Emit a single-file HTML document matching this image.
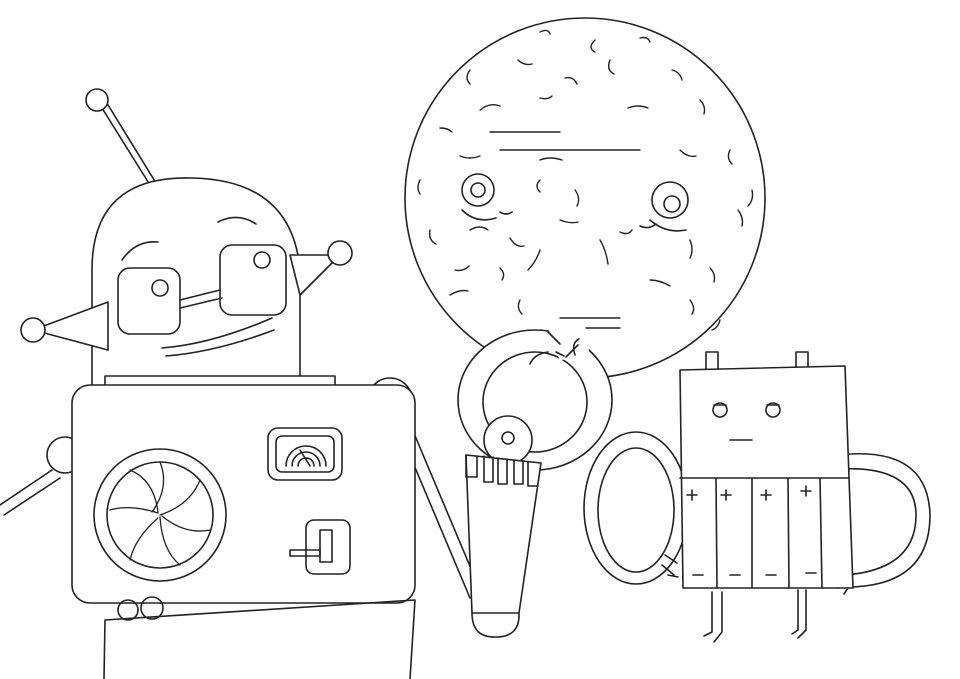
<!DOCTYPE html>
<html><head><style>html,body{margin:0;padding:0;background:#fff}svg{display:block}</style></head>
<body>
<svg width="960" height="679" viewBox="0 0 960 679" xmlns="http://www.w3.org/2000/svg" fill="none" stroke="#222" stroke-width="1.6" stroke-linejoin="round" stroke-linecap="round">
<!-- Moon -->
<circle cx="585" cy="198" r="180" fill="#fff"/>
<g stroke-width="1.4">
<path d="M540 32q8-4 10 2"/><path d="M595 40q-8 8 0 12"/><path d="M640 38q8-2 10 4"/><path d="M470 70q-6 8 0 14"/><path d="M518 60q6 6 14 4"/><path d="M565 78q8-2 12 6"/><path d="M610 60q-4 10 4 14"/><path d="M672 70q8 2 10 10"/><path d="M480 110q10-8 20-4"/><path d="M540 98q8 2 12-2"/><path d="M628 108q10-4 20 0"/><path d="M700 100q6 6 4 14"/><path d="M440 128q8 0 12 4"/><path d="M730 150q-4 8 2 14"/><path d="M420 180q-4 8 0 14"/><path d="M752 190q2 10-4 16"/><path d="M460 156q10 4 20 0"/><path d="M500 150h140"/><path d="M490 132h70"/><path d="M540 160q10-4 22 0"/><path d="M680 150q8 8 16 6"/><path d="M575 190q6 8 2 16"/><path d="M540 180q-6 6 0 12"/><path d="M738 210q6 8 4 16"/><path d="M430 230q-2 10 6 14"/><path d="M470 230q10-6 18 0"/><path d="M510 238q6 10 14 8"/><path d="M600 240q6 10 8 24"/><path d="M540 250q-4 12-12 20"/><path d="M620 232q8 4 12-2"/><path d="M560 220q10 4 18 2"/><path d="M690 240q4 10 0 18"/><path d="M455 270q8 2 14-4"/><path d="M500 268q6 6 2 12"/><path d="M650 280q10 0 20 6"/><path d="M710 268q6 6 4 14"/><path d="M450 295q10-6 18-4"/><path d="M690 300q6 8 2 14"/><path d="M520 300q-4 8 2 14"/><path d="M720 320q-2 8-8 10"/><path d="M560 318h60"/><path d="M570 328h50"/><path d="M565 350q8-4 14 2"/>
</g>
<circle cx="478" cy="190" r="16"/><circle cx="478" cy="190" r="7"/>
<circle cx="670" cy="200" r="18"/><circle cx="672" cy="204" r="8"/>
<path d="M462 210q14 14 34 8"/><path d="M650 220q16 14 36 10"/><path d="M500 212q6 4 12 0"/><path d="M640 226q8 4 16-2"/>
<!-- Robot -->
<line x1="97" y1="100" x2="150" y2="185"/><line x1="105" y1="100" x2="156" y2="183"/>
<circle cx="97" cy="100" r="11" fill="#fff"/>
<path d="M92 405V270q0-95 100-92q100 2 108 92V390z" fill="#fff"/>
<path d="M108 302l-75 28l75 20z" fill="#fff"/><circle cx="33" cy="330" r="12" fill="#fff"/>
<path d="M290 255l50 0l-40 40z" fill="#fff"/><circle cx="340" cy="253" r="12" fill="#fff"/>
<rect x="118" y="268" width="62" height="66" rx="12" fill="#fff"/><rect x="220" y="245" width="66" height="70" rx="12" fill="#fff"/>
<path d="M180 300l40-10M180 308l42-10"/>
<circle cx="160" cy="288" r="8"/><circle cx="262" cy="260" r="8"/>
<path d="M122 260q14-20 36-18M218 222q20-10 38 2"/>
<path d="M162 348q50-4 110-30M166 356q50-4 108-26"/>
<rect x="105" y="376" width="230" height="34" fill="#fff"/>
<circle cx="65" cy="455" r="18" fill="#fff"/><path d="M52 470L0 505M60 478L4 515"/>
<circle cx="390" cy="400" r="22" fill="#fff"/>
<path d="M395 420L470 598M405 412L480 590"/>
<rect x="72" y="385" width="343" height="218" rx="18" fill="#fff"/>
<circle cx="160" cy="515" r="66"/><circle cx="160" cy="515" r="53"/>
<g stroke-width="1.3"><path d="M160 462q10 25-8 50M200 480q-10 25-40 35M210 530q-25 5-48-14M180 565q-18-15-20-48M130 560q5-22 28-42M110 510q20-6 48 3M130 470q24 10 28 42"/></g>
<rect x="268" y="428" width="74" height="52" rx="10"/><rect x="276" y="436" width="58" height="36" rx="6"/>
<path d="M286 466a20 20 0 0 1 40 0M292 466a14 14 0 0 1 28 0M298 466a8 8 0 0 1 16 0M300 450l10 16"/>
<rect x="306" y="520" width="44" height="54" rx="8"/><rect x="320" y="530" width="12" height="32"/><path d="M290 550h30v6h-30z"/>
<circle cx="128" cy="610" r="10"/><circle cx="152" cy="608" r="11"/>
<path d="M105 620L104 679M415 600L410 679M105 620l310-20"/>
<!-- Claw ring -->
<ellipse cx="535" cy="400" rx="77" ry="70" fill="#fff"/>
<ellipse cx="535" cy="402" rx="52" ry="50" fill="#fff"/>
<polygon points="548,325 585,325 590,358 560,360 552,345" fill="#fff" stroke="none"/>
<path d="M548 332l12 12M556 352l8 4M578 345l-12 12"/>
<path d="M548 352q-14 2-18 12M575 355q-4-12 4-16"/>
<circle cx="508" cy="440" r="24" fill="#fff"/><circle cx="508" cy="438" r="6"/>
<path d="M466 455l75 8l-22 150h-47z" fill="#fff"/>
<path d="M466 455v22h11v-21M484 456v26h9v-25M498 458v26h9v-25M514 460v24h9v-23M528 462v24h10"/>
<path d="M472 613q0 25 24 24q24 0 23-24"/>
<!-- Battery arms -->
<ellipse cx="636" cy="508" rx="52" ry="76" fill="#fff"/>
<ellipse cx="636" cy="510" rx="38" ry="62" fill="#fff"/>
<path d="M665 555l12 8M662 565l12 10M668 575l10 2"/>
<path d="M838 455q90-10 92 60q0 70-80 72l-4-12q70-6 70-60q0-50-78-46z" fill="#fff"/>
<path d="M848 570l-10 6M850 578l-12 10M852 582l-8 12"/>
<rect x="706" y="352" width="12" height="18"/><rect x="796" y="352" width="12" height="18"/>
<path d="M680 370l165-4l8 222l-170 0z" fill="#fff"/>
<path d="M680 478h168M716 478l1 110M752 478v110M788 478l1 110M820 478l2 110"/>
<path d="M692 490v10M687 495h10M726 490v10M721 495h10M766 490v10M761 495h10M806 486v10M801 491h10"/>
<path d="M693 575h10M730 575h10M766 575h10M806 573h10"/>
<circle cx="720" cy="410" r="7"/><circle cx="773" cy="410" r="7"/><path d="M730 440h22"/>
<path d="M714 405h12M767 405h12"/>
<path d="M712 592v40l-8 4M722 592v40l-8 10M798 590v40l-6 4M806 590v40l-8 8"/>
</svg>
</body></html>
